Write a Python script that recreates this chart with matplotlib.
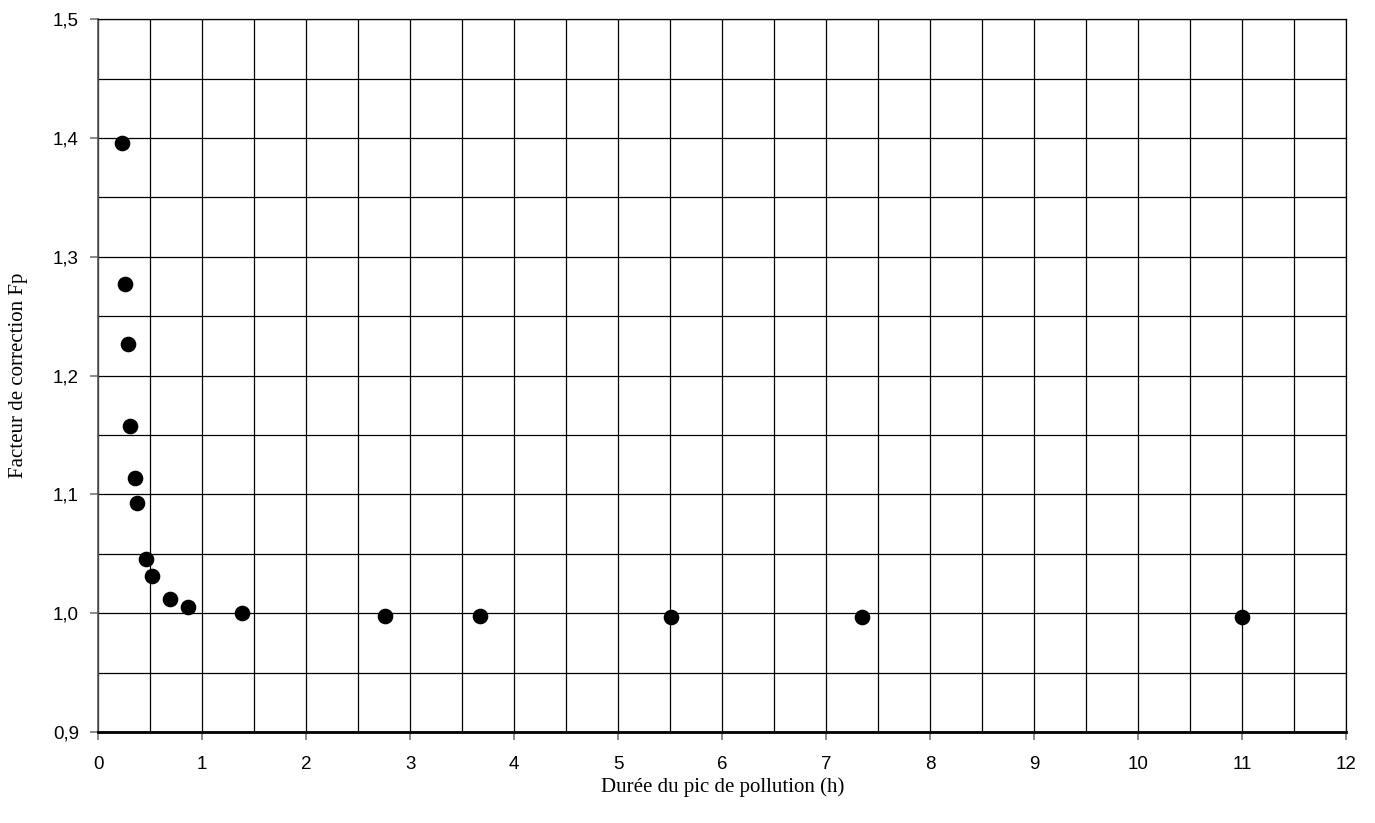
import matplotlib
matplotlib.use("Agg")
from matplotlib import pyplot as plt
from matplotlib.ticker import MultipleLocator, FixedLocator, FixedFormatter

# durée du pic (h) et facteur de correction Fp
duree = [0.224, 0.26, 0.282, 0.308, 0.353, 0.369, 0.462, 0.516, 0.689, 0.862,
         1.378, 2.755, 3.67, 5.51, 7.34, 11.0]
fp = [1.396, 1.277, 1.227, 1.158, 1.114, 1.093, 1.046, 1.031, 1.012, 1.005,
      1.0, 0.998, 0.998, 0.997, 0.997, 0.997]

xticks = list(range(0, 13))
yticks = [0.9, 1.0, 1.1, 1.2, 1.3, 1.4, 1.5]
ylabels = ["0,9", "1,0", "1,1", "1,2", "1,3", "1,4", "1,5"]

fig = plt.figure(figsize=(13.75, 8.23), dpi=100)
ax = fig.add_axes([0.0715, 0.1106, 0.9075, 0.8659])

ax.set_xlim(0, 12)
ax.set_ylim(0.9, 1.5)

ax.xaxis.set_major_locator(FixedLocator(xticks))
ax.xaxis.set_minor_locator(MultipleLocator(0.5))
ax.yaxis.set_major_locator(FixedLocator(yticks))
ax.yaxis.set_major_formatter(FixedFormatter(ylabels))
ax.yaxis.set_minor_locator(MultipleLocator(0.05))

ax.grid(which="both", color="black", linewidth=0.9)
ax.set_axisbelow(True)

ax.scatter(duree, fp, s=105, color="black", zorder=3, clip_on=False)

for sp in ["top", "right"]:
    ax.spines[sp].set_color("black")
    ax.spines[sp].set_linewidth(0.9)
ax.spines["left"].set_color("#555555")
ax.spines["left"].set_linewidth(1.2)
ax.spines["bottom"].set_color("black")
ax.spines["bottom"].set_linewidth(2)

ax.tick_params(which="major", direction="out", length=6, width=1.2, color="#777777",
               labelsize=13.5, pad=8)
ax.tick_params(which="minor", length=0)
for lab in ax.get_xticklabels() + ax.get_yticklabels():
    lab.set_fontfamily("Liberation Sans")
ax.tick_params(axis="x", pad=11)

ax.set_xlabel("Durée du pic de pollution (h)", fontfamily="Liberation Serif",
              fontsize=15)
ax.set_ylabel("Facteur de correction Fp", fontfamily="Liberation Serif",
              fontsize=15)
ax.xaxis.set_label_coords(0.5, -0.064)
ax.yaxis.set_label_coords(-0.0565, 0.5)

fig.savefig("out.png", dpi=100)
